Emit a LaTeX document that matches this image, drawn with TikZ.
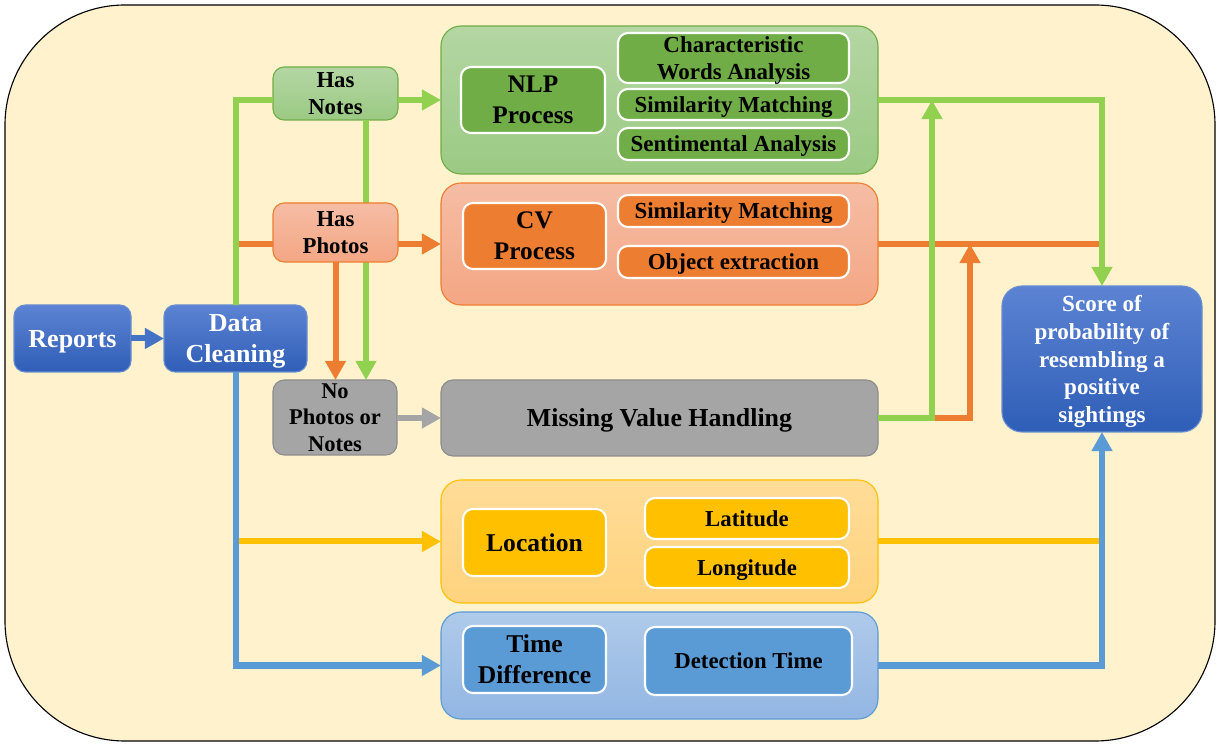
\documentclass[tikz,border=0pt]{standalone}
\usepackage{fontspec}
\setmainfont{Liberation Serif}
\usetikzlibrary{arrows.meta,calc}
\definecolor{bg}{HTML}{FFF2CC}
\definecolor{gline}{HTML}{92D050}
\definecolor{oline}{HTML}{ED7D31}
\definecolor{yline}{HTML}{FFC000}
\definecolor{bline}{HTML}{5B9BD5}
\definecolor{dblue}{HTML}{4472C4}
\definecolor{gray1}{HTML}{A5A5A5}
\definecolor{gray2}{HTML}{8C8C8C}
\definecolor{btop}{HTML}{5C83D3}
\definecolor{bbot}{HTML}{2F5EB7}
\definecolor{gtop}{HTML}{B4D6A3}
\definecolor{gbot}{HTML}{9BCA83}
\definecolor{gdark}{HTML}{70AD47}
\definecolor{otop}{HTML}{F5BDA5}
\definecolor{obot}{HTML}{F4A683}
\definecolor{ytop}{HTML}{FFDC98}
\definecolor{ybot}{HTML}{FFD37E}
\definecolor{ltop}{HTML}{AFCAEA}
\definecolor{lbot}{HTML}{92B6E2}
\newcommand{\myfA}{\fontsize{18.5}{22}\selectfont\bfseries}
\newcommand{\myfB}{\fontsize{16.2}{19.2}\selectfont\bfseries}
\newcommand{\myfC}{\fontsize{18}{22}\selectfont\bfseries}
\newcommand{\myfD}{\fontsize{16.3}{19.2}\selectfont\bfseries}
\tikzset{
  sz/.style 2 args={minimum width=#1*0.025cm, minimum height=#2*0.025cm},
  base/.style={inner sep=0pt, outer sep=0pt, align=center, line width=0.8pt, text depth=0pt},
  small/.style={base, rounded corners=0.28cm},
  big/.style={base, rounded corners=0.5cm},
  inbox/.style={base, rounded corners=0.25cm, draw=white, line width=1.5pt},
  bluebox/.style={small, draw=dblue!80, top color=btop, bottom color=bbot, text=white},
  ln/.style={line width=0.15cm},
  arr/.style={ln, -{Triangle[width=0.5cm,length=0.48cm]}},
}
\begin{document}
\begin{tikzpicture}[x=0.025cm, y=-0.025cm]
\useasboundingbox (0,0) rectangle (1219,747);
\draw[fill=bg, line width=0.8pt, rounded corners=3cm] (5,5) rectangle (1215,741);

% left nodes
\node[bluebox, sz={117}{67}, font=\myfA] (rep) at (72.5,338.5) {Reports};
\node[bluebox, sz={143}{67}, font=\myfA] (dc) at (235.5,338.5) {Data\\Cleaning};
\node[small, draw=gdark, top color=gtop, bottom color=gbot, sz={125}{53}, font=\myfB] (hn) at (335.5,93.5) {Has\\Notes};
\node[small, draw=gray2, fill=gray1, sz={124}{75}, font={\fontsize{16}{18.8}\selectfont\bfseries}] (np) at (335,417.5) {No\\Photos or\\Notes};
\coordinate (gv) at ($(hn.south)+(30.5,0)$);
\draw[arr, gline] (gv) -- (gv |- np.north);
\node[small, draw=oline, top color=otop, bottom color=obot, sz={125}{59}, font=\myfB] (hp) at (335.5,232.5) {Has\\Photos};

% NLP
\node[big, draw=gdark, top color=gtop, bottom color=gbot, sz={437}{148}] (nlp) at (659.5,100) {};
\node[inbox, fill=gdark, sz={144}{66}, font=\myfC] (nlpp) at (533,100) {NLP\\Process};
\node[inbox, fill=gdark, sz={231}{50}, font=\myfD] (cwa) at (733.5,58) {Characteristic\\Words Analysis};
\node[inbox, fill=gdark, sz={231}{31}, font=\myfD] (sm1) at (733.5,104.5) {Similarity Matching};
\node[inbox, fill=gdark, sz={231}{32}, font=\myfD] (sa) at (733.5,144) {Sentimental Analysis};

% CV
\node[big, draw=oline, top color=otop, bottom color=obot, sz={437}{122}] (cv) at (659.5,244) {};
\node[inbox, fill=oline, sz={143}{66}, font=\myfC] (cvp) at (534.5,236) {CV\\Process};
\node[inbox, fill=oline, sz={231}{32}, font=\myfD] (sm2) at (733.5,211) {Similarity Matching};
\node[inbox, fill=oline, sz={231}{32}, font=\myfD] (oe) at (733.5,262) {Object extraction};

% Missing
\node[big, rounded corners=0.3cm, draw=gray2, fill=gray1, sz={437}{76}, font={\fontsize{18.4}{22}\selectfont\bfseries}] (mvh) at (659.5,418) {Missing Value Handling};

% Location
\node[big, draw=yline, top color=ytop, bottom color=ybot, sz={437}{123}] (loc) at (659.5,541.5) {};
\node[inbox, fill=yline, sz={143}{67}, font={\fontsize{18.2}{22}\selectfont\bfseries}] (locn) at (534.5,542.5) {Location};
\node[inbox, fill=yline, sz={204}{41}, font={\fontsize{16.2}{19}\selectfont\bfseries}] (lat) at (747,518.5) {Latitude};
\node[inbox, fill=yline, sz={204}{41}, font={\fontsize{16.2}{19}\selectfont\bfseries}] (lon) at (747,567.5) {Longitude};

% Time
\node[big, draw=bline, top color=ltop, bottom color=lbot, sz={437}{107}] (tim) at (659.5,665.5) {};
\node[inbox, fill=bline, sz={143}{67}, font={\fontsize{18.2}{22}\selectfont\bfseries}] (td) at (534.5,659.5) {Time\\Difference};
\node[inbox, fill=bline, sz={207}{68}, font={\fontsize{16.2}{19}\selectfont\bfseries}] (dt) at (748.5,661) {Detection Time};

% Score
\node[bluebox, rounded corners=0.5cm, sz={200}{146}, font={\fontsize{16.4}{19.6}\selectfont\bfseries}] (sc) at (1102,359) {Score of\\probability of\\resembling a\\positive\\sightings};

% connectors
\draw[arr, dblue] (rep) -- (dc);
\draw[ln, oline] (dc.north |- cv.west) -- (hp.west |- cv.west);
\draw[ln, gline] (dc.north) |- (hn.west |- nlp.west);
\draw[arr, gline] (hn.east |- nlp.west) -- (nlp.west);
\draw[arr, oline] (hp.east |- cv.west) -- (cv.west);
\draw[arr, oline] (hp.south) -- (hp.south |- np.north);
\draw[arr, gray1] (np.east |- mvh.west) -- (mvh.west);
\draw[arr, yline] (dc.south |- loc.west) -- (loc.west);
\draw[arr, bline] (dc.south) |- (tim.west);

% right side
\coordinate (jg) at ($(nlp.east)+(54,0)$);
\coordinate (jo) at ($(cv.east)+(92,0)$);
\draw[ln, oline] (cv.east) -- (cv.east -| sc.north);
\draw[arr, oline] (mvh.east) -| (jo);
\draw[arr, gline] (mvh.east) -| (jg);
\draw[arr, gline] (nlp.east) -| (sc.north);
\draw[ln, yline] (loc.east) -- (loc.east -| sc.south);
\draw[arr, bline] (tim.east) -| (sc.south);
\end{tikzpicture}
\end{document}
